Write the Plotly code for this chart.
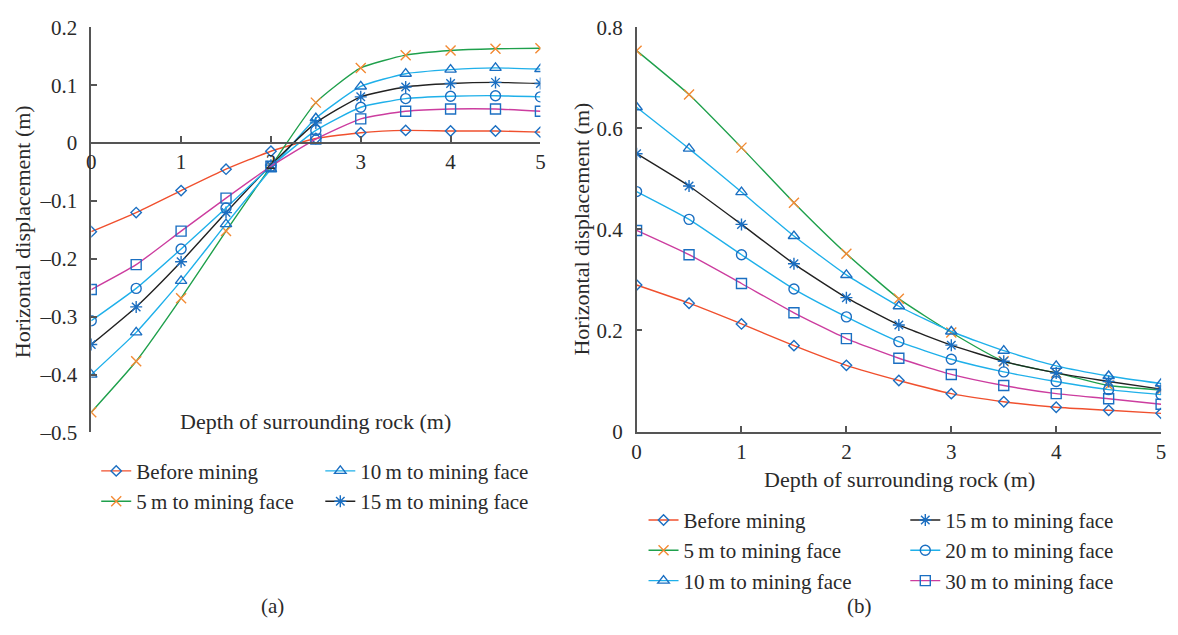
import plotly.graph_objects as go

# Depth of surrounding rock (m)
depth = [0, 0.5, 1, 1.5, 2, 2.5, 3, 3.5, 4, 4.5, 5]

series_names = [
    "Before mining",
    "5\u2009m to mining face",
    "10\u2009m to mining face",
    "15\u2009m to mining face",
    "20\u2009m to mining face",
    "30\u2009m to mining face",
]

# (a) horizontal displacement (m)
a_before = [-0.153, -0.120, -0.082, -0.045, -0.014, 0.008, 0.018, 0.022, 0.021, 0.021, 0.019]
a_5m = [-0.465, -0.377, -0.268, -0.152, -0.040, 0.070, 0.130, 0.152, 0.160, 0.163, 0.164]
a_10m = [-0.400, -0.327, -0.238, -0.140, -0.045, 0.043, 0.098, 0.120, 0.127, 0.130, 0.128]
a_15m = [-0.348, -0.283, -0.205, -0.120, -0.038, 0.035, 0.080, 0.097, 0.103, 0.105, 0.103]
a_20m = [-0.307, -0.251, -0.183, -0.112, -0.040, 0.022, 0.062, 0.077, 0.081, 0.082, 0.080]
a_30m = [-0.253, -0.210, -0.152, -0.095, -0.040, 0.007, 0.042, 0.055, 0.059, 0.059, 0.055]

# (b) horizontal displacement (m)
b_before = [0.290, 0.254, 0.213, 0.170, 0.131, 0.101, 0.075, 0.059, 0.048, 0.042, 0.036]
b_5m = [0.754, 0.667, 0.562, 0.453, 0.352, 0.263, 0.196, 0.139, 0.116, 0.091, 0.082]
b_10m = [0.642, 0.560, 0.474, 0.387, 0.310, 0.248, 0.198, 0.160, 0.130, 0.110, 0.095]
b_15m = [0.550, 0.486, 0.410, 0.332, 0.265, 0.211, 0.171, 0.139, 0.116, 0.099, 0.084]
b_20m = [0.475, 0.420, 0.350, 0.282, 0.227, 0.178, 0.143, 0.118, 0.099, 0.083, 0.073]
b_30m = [0.398, 0.350, 0.293, 0.235, 0.184, 0.145, 0.113, 0.091, 0.075, 0.065, 0.054]

x_ticks = [0, 1, 2, 3, 4, 5]
a_y_ticks = [0.2, 0.1, 0, -0.1, -0.2, -0.3, -0.4, -0.5]
b_y_ticks = [0, 0.2, 0.4, 0.6, 0.8]

W, H = 1178, 635
FONT = "Liberation Serif"
TXT = "#2a2a2a"
AXC = "#555555"
MBLUE = "#1b6fc2"
TICK_SIZE = 21
TITLE_SIZE = 22
LEGEND_SIZE = 21

line_colors = ["#f0502e", "#1fa04c", "#1fb0ea", "#222222", "#1fb0ea", "#cc3d9f"]
symbols = ["diamond-open", "x-thin-open", "triangle-up-open", "asterisk-open", "circle-open", "square-open"]
marker_colors = [MBLUE, "#f38a34", MBLUE, MBLUE, MBLUE, MBLUE]
marker_sizes = [8, 10, 10, 10, 10, 10]


def px(x):
    return x / W


def py(y):
    return 1 - y / H


fig = go.Figure()

a_data = [a_before, a_5m, a_10m, a_15m, a_20m, a_30m]
b_data = [b_before, b_5m, b_10m, b_15m, b_20m, b_30m]
a_legends = ["legend", "legend", "legend2", "legend2", None, None]
b_legends = ["legend3", "legend3", "legend3", "legend4", "legend4", "legend4"]

for i, vals in enumerate(a_data):
    kw = dict(legend=a_legends[i], showlegend=True) if a_legends[i] else dict(showlegend=False)
    fig.add_trace(go.Scatter(
        x=depth, y=vals, name=series_names[i], mode="lines+markers",
        line=dict(color=line_colors[i], width=1.4, shape="spline", smoothing=0.5),
        marker=dict(symbol=symbols[i], size=marker_sizes[i], color=marker_colors[i],
                    line=dict(color=marker_colors[i], width=1.4)),
        xaxis="x", yaxis="y", **kw,
    ))

for i, vals in enumerate(b_data):
    fig.add_trace(go.Scatter(
        x=depth, y=vals, name=series_names[i], mode="lines+markers",
        line=dict(color=line_colors[i], width=1.4, shape="spline", smoothing=0.5),
        marker=dict(symbol=symbols[i], size=marker_sizes[i], color=marker_colors[i],
                    line=dict(color=marker_colors[i], width=1.4)),
        xaxis="x2", yaxis="y2", legend=b_legends[i], showlegend=True,
    ))

axis_common = dict(
    showgrid=False, zeroline=False, showline=True, linecolor=AXC, linewidth=1.5,
    ticks="inside", ticklen=6, tickwidth=1.5, tickcolor=AXC,
    tickfont=dict(family=FONT, size=TICK_SIZE, color=TXT),
)

# (a): plot area x 88..540, y 16..437 px
a_dom_y = [py(437), py(16)]
zero_pos = a_dom_y[0] + (0 - (-0.5)) / 0.7 * (a_dom_y[1] - a_dom_y[0])
fig.update_layout(
    xaxis=dict(domain=[px(87), px(540)], range=[0, 5], tickvals=x_ticks,
               anchor="free", position=zero_pos, ticklabelstandoff=0, **axis_common),
    yaxis=dict(domain=a_dom_y, range=[-0.5, 0.2], tickvals=a_y_ticks,
               ticktext=[("\u2013" + f"{abs(v):g}") if v < 0 else f"{v:g}" for v in a_y_ticks],
               anchor="x", ticklabelstandoff=8, **axis_common),
    xaxis2=dict(domain=[px(637), px(1166)], range=[0, 5], tickvals=x_ticks,
                anchor="y2", ticklabelstandoff=1, **axis_common),
    yaxis2=dict(domain=[py(436), py(16)], range=[0, 0.8], tickvals=b_y_ticks,
                ticktext=[f"{v:g}" for v in b_y_ticks], anchor="x2",
                ticklabelstandoff=8, **axis_common),
)

legend_common = dict(
    orientation="v", bgcolor="rgba(0,0,0,0)", borderwidth=0,
    font=dict(family=FONT, size=LEGEND_SIZE, color=TXT), xanchor="left", yanchor="top",
    tracegroupgap=0, itemwidth=30,
)
fig.update_layout(
    legend=dict(x=px(92), y=py(456), **legend_common),
    legend2=dict(x=px(318), y=py(456), **legend_common),
    legend3=dict(x=px(644), y=py(507), **legend_common),
    legend4=dict(x=px(908), y=py(507), **legend_common),
)

annots = [
    dict(text="Horizontal displacement (m)", x=px(18), y=py(228), textangle=-90, size=TITLE_SIZE),
    dict(text="Depth of surrounding rock (m)", x=px(313), y=py(426), textangle=0, size=TITLE_SIZE),
    dict(text="Horizontal displacement (m)", x=px(581), y=py(226), textangle=-90, size=TITLE_SIZE),
    dict(text="Depth of surrounding rock (m)", x=px(902), y=py(486), textangle=0, size=TITLE_SIZE),
    dict(text="(a)", x=px(270), y=py(617), textangle=0, size=TICK_SIZE),
    dict(text="(b)", x=px(862), y=py(617), textangle=0, size=TICK_SIZE),
]
for an in annots:
    size = an.pop("size")
    fig.add_annotation(xref="paper", yref="paper", showarrow=False,
                       xanchor="center", yanchor="middle",
                       font=dict(family=FONT, size=size, color=TXT), **an)

fig.update_layout(
    width=W, height=H, margin=dict(l=0, r=0, t=0, b=0),
    paper_bgcolor="white", plot_bgcolor="white",
)

fig.write_html("out.html")
